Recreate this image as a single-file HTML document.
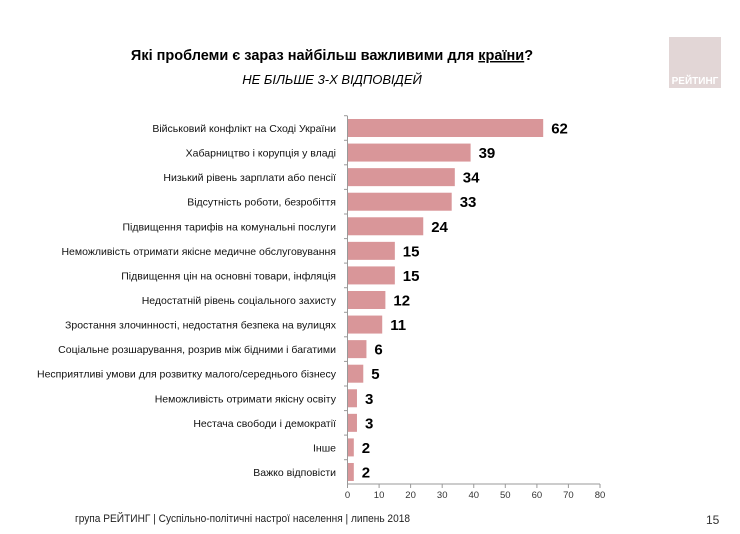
<!DOCTYPE html>
<html><head><meta charset="utf-8"><style>
body{margin:0;width:740px;height:529px;background:#fff;overflow:hidden;font-family:"Liberation Sans",sans-serif}
</style></head><body>
<svg width="740" height="529" xmlns="http://www.w3.org/2000/svg" font-family="Liberation Sans, sans-serif">
<rect x="669" y="37" width="52" height="51" fill="#e2d6d6"/>
<text x="695" y="84" font-size="10" font-weight="bold" fill="#fff" text-anchor="middle">РЕЙТИНГ</text>
<text x="332" y="60" font-size="14.5" font-weight="bold" fill="#000" text-anchor="middle">Які проблеми є зараз найбільш важливими для <tspan text-decoration="underline">країни</tspan>?</text>
<text x="332" y="84" font-size="13" font-style="italic" fill="#000" text-anchor="middle">НЕ БІЛЬШЕ 3-Х ВІДПОВІДЕЙ</text>
<g fill="#d99699">
<rect x="347.5" y="119" width="195.7" height="18"/>
<rect x="347.5" y="143.57" width="123.1" height="18"/>
<rect x="347.5" y="168.14" width="107.3" height="18"/>
<rect x="347.5" y="192.71" width="104.2" height="18"/>
<rect x="347.5" y="217.28" width="75.75" height="18"/>
<rect x="347.5" y="241.85" width="47.34" height="18"/>
<rect x="347.5" y="266.42" width="47.34" height="18"/>
<rect x="347.5" y="290.99" width="37.88" height="18"/>
<rect x="347.5" y="315.56" width="34.72" height="18"/>
<rect x="347.5" y="340.13" width="18.94" height="18"/>
<rect x="347.5" y="364.7" width="15.78" height="18"/>
<rect x="347.5" y="389.27" width="9.47" height="18"/>
<rect x="347.5" y="413.84" width="9.47" height="18"/>
<rect x="347.5" y="438.41" width="6.31" height="18"/>
<rect x="347.5" y="462.98" width="6.31" height="18"/>
</g>
<g font-size="10.5" fill="#111" text-anchor="end">
<text x="336" y="132">Військовий конфлікт на Сході України</text>
<text x="336" y="156.57">Хабарництво і корупція у владі</text>
<text x="336" y="181.14">Низький рівень зарплати або пенсії</text>
<text x="336" y="205.71">Відсутність роботи, безробіття</text>
<text x="336" y="230.28">Підвищення тарифів на комунальні послуги</text>
<text x="336" y="254.85">Неможливість отримати якісне медичне обслуговування</text>
<text x="336" y="279.42">Підвищення цін на основні товари, інфляція</text>
<text x="336" y="303.99">Недостатній рівень соціального захисту</text>
<text x="336" y="328.56">Зростання злочинності, недостатня безпека на вулицях</text>
<text x="336" y="353.13">Соціальне розшарування, розрив між бідними і багатими</text>
<text x="336" y="377.7">Несприятливі умови для розвитку малого/середнього бізнесу</text>
<text x="336" y="402.27">Неможливість отримати якісну освіту</text>
<text x="336" y="426.84">Нестача свободи і демократії</text>
<text x="336" y="451.41">Інше</text>
<text x="336" y="475.98">Важко відповісти</text>
</g>
<g font-size="15" font-weight="bold" fill="#000">
<text x="551.2" y="133.5">62</text>
<text x="478.6" y="158.07">39</text>
<text x="462.8" y="182.64">34</text>
<text x="459.7" y="207.21">33</text>
<text x="431.2" y="231.78">24</text>
<text x="402.8" y="256.35">15</text>
<text x="402.8" y="280.92">15</text>
<text x="393.4" y="305.49">12</text>
<text x="390.2" y="330.06">11</text>
<text x="374.4" y="354.63">6</text>
<text x="371.3" y="379.2">5</text>
<text x="365" y="403.77">3</text>
<text x="365" y="428.34">3</text>
<text x="361.8" y="452.91">2</text>
<text x="361.8" y="477.48">2</text>
</g>
<g stroke="#999" stroke-width="1">
<line x1="347.5" y1="116" x2="347.5" y2="484"/>
<line x1="347" y1="484" x2="600" y2="484"/>
<line x1="344" x2="347.5" y1="115.7" y2="115.7"/>
<line x1="344" x2="347.5" y1="140.3" y2="140.3"/>
<line x1="344" x2="347.5" y1="164.8" y2="164.8"/>
<line x1="344" x2="347.5" y1="189.4" y2="189.4"/>
<line x1="344" x2="347.5" y1="214" y2="214"/>
<line x1="344" x2="347.5" y1="238.6" y2="238.6"/>
<line x1="344" x2="347.5" y1="263.1" y2="263.1"/>
<line x1="344" x2="347.5" y1="287.7" y2="287.7"/>
<line x1="344" x2="347.5" y1="312.3" y2="312.3"/>
<line x1="344" x2="347.5" y1="336.8" y2="336.8"/>
<line x1="344" x2="347.5" y1="361.4" y2="361.4"/>
<line x1="344" x2="347.5" y1="386" y2="386"/>
<line x1="344" x2="347.5" y1="410.6" y2="410.6"/>
<line x1="344" x2="347.5" y1="435.1" y2="435.1"/>
<line x1="344" x2="347.5" y1="459.7" y2="459.7"/>
<line x1="347.5" x2="347.5" y1="484" y2="488"/>
<line x1="379.1" x2="379.1" y1="484" y2="488"/>
<line x1="410.6" x2="410.6" y1="484" y2="488"/>
<line x1="442.2" x2="442.2" y1="484" y2="488"/>
<line x1="473.75" x2="473.75" y1="484" y2="488"/>
<line x1="505.3" x2="505.3" y1="484" y2="488"/>
<line x1="536.9" x2="536.9" y1="484" y2="488"/>
<line x1="568.4" x2="568.4" y1="484" y2="488"/>
<line x1="600" x2="600" y1="484" y2="488"/>
</g>
<g font-size="9.5" fill="#333" text-anchor="middle">
<text x="347.5" y="498">0</text>
<text x="379.1" y="498">10</text>
<text x="410.6" y="498">20</text>
<text x="442.2" y="498">30</text>
<text x="473.75" y="498">40</text>
<text x="505.3" y="498">50</text>
<text x="536.9" y="498">60</text>
<text x="568.4" y="498">70</text>
<text x="600" y="498">80</text>
</g>
<text x="75" y="522" font-size="11" fill="#222" textLength="335" lengthAdjust="spacingAndGlyphs">група РЕЙТИНГ |  Суспільно-політичні настрої населення |  липень 2018</text>
<text x="706" y="524" font-size="12" fill="#333">15</text>
</svg>
</body></html>
